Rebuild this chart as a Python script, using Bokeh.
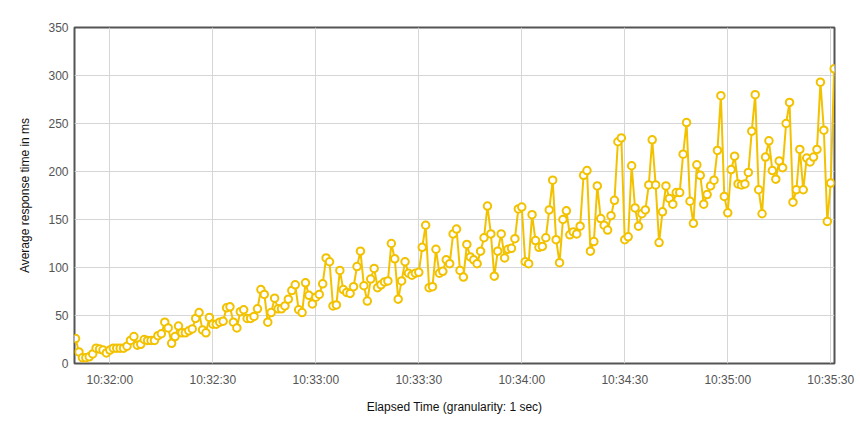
import pandas as pd
from bokeh.plotting import figure
from bokeh.models import FixedTicker, DatetimeTickFormatter, Range1d
from bokeh.embed import file_html
from bokeh.resources import INLINE

# average response time in ms, one value per second from 10:31:50
start_time = "2024-01-01 10:31:50"
avg_ms = [
    26, 12, 6, 6, 7, 10, 16, 15, 14, 11,
    14, 16, 16, 16, 16, 18, 24, 28, 19, 20,
    25, 24, 24, 24, 29, 31, 43, 37, 21, 28,
    39, 32, 32, 34, 36, 47, 53, 35, 32, 48,
    41, 41, 43, 44, 58, 59, 43, 37, 54, 56,
    47, 47, 49, 57, 77, 72, 43, 53, 68, 57,
    57, 60, 67, 76, 82, 56, 53, 84, 71, 62,
    69, 72, 83, 110, 106, 60, 61, 97, 77, 74,
    73, 80, 101, 117, 81, 65, 88, 99, 79, 82,
    85, 86, 125, 109, 67, 86, 106, 94, 92, 94,
    95, 121, 144, 79, 80, 119, 94, 96, 108, 104,
    135, 140, 97, 90, 124, 111, 108, 104, 117, 131,
    164, 135, 91, 117, 135, 110, 119, 120, 130, 161,
    163, 106, 104, 155, 128, 121, 122, 131, 160, 191,
    129, 105, 150, 159, 134, 137, 135, 143, 196, 201,
    117, 127, 185, 151, 144, 139, 154, 170, 231, 235,
    129, 132, 206, 162, 143, 156, 160, 186, 233, 186,
    126, 158, 185, 172, 166, 178, 178, 218, 251, 169,
    146, 207, 196, 166, 176, 185, 191, 222, 279, 174,
    157, 202, 216, 187, 186, 187, 199, 242, 280, 181,
    156, 215, 232, 201, 192, 211, 204, 250, 272, 168,
    181, 223, 181, 214, 210, 215, 223, 293, 243, 148,
    188, 307,
]

x_tick_times = ["10:32:00", "10:32:30", "10:33:00", "10:33:30",
                "10:34:00", "10:34:30", "10:35:00", "10:35:30"]
y_ticks = [0, 50, 100, 150, 200, 250, 300, 350]

GOLD = "#f2c200"
GREY = "#545454"


def to_ms(ts):
    return ts.value // 10**6


def createGraph():
    times = pd.date_range(start=start_time, periods=len(avg_ms), freq="s")
    day = start_time.split(" ")[0]
    ticks = [to_ms(pd.Timestamp(day + " " + t)) for t in x_tick_times]

    graph = figure(width=856, height=420, x_axis_type="datetime",
                   output_backend="svg", toolbar_location=None,
                   min_border_left=74, min_border_right=22,
                   min_border_top=27, min_border_bottom=57)

    graph.x_range = Range1d(to_ms(times[0]) - 300, to_ms(times[-1]) + 100)
    graph.y_range = Range1d(0, 350)

    graph.line(times, avg_ms, line_color=GOLD, line_width=2)
    graph.scatter(times, avg_ms, size=7.5, fill_color="white",
                  line_color=GOLD, line_width=2)

    fmt = "%H:%M:%S"
    graph.xaxis.ticker = FixedTicker(ticks=ticks)
    graph.xaxis.formatter = DatetimeTickFormatter(
        milliseconds=fmt, seconds=fmt, minsec=fmt, minutes=fmt,
        hourmin=fmt, hours=fmt)
    graph.yaxis.ticker = FixedTicker(ticks=y_ticks)

    graph.xaxis.axis_label = "Elapsed Time (granularity: 1 sec)"
    graph.yaxis.axis_label = "Average response time in ms"

    for axis in (graph.xaxis, graph.yaxis):
        axis.axis_line_color = None
        axis.major_tick_line_color = None
        axis.minor_tick_line_color = None
        axis.major_tick_out = 0
        axis.major_tick_in = 0
        axis.minor_tick_out = 0
        axis.major_label_text_font = "Liberation Sans"
        axis.major_label_text_font_size = "12px"
        axis.major_label_text_color = GREY
        axis.axis_label_text_font = "Liberation Sans"
        axis.axis_label_text_font_size = "12px"
        axis.axis_label_text_font_style = "normal"
        axis.axis_label_text_color = "#111111"
    graph.xaxis.major_label_standoff = 9
    graph.yaxis.major_label_standoff = 6
    graph.xaxis.axis_label_standoff = 10
    graph.yaxis.axis_label_standoff = 13

    graph.grid.grid_line_color = "#d6d6d6"
    graph.grid.grid_line_width = 1
    graph.outline_line_color = GREY
    graph.outline_line_width = 2
    graph.outline_line_alpha = 1
    graph.background_fill_color = "white"
    graph.border_fill_color = "white"

    return graph


p = createGraph()
open("out.html", "w").write(file_html(p, INLINE))
